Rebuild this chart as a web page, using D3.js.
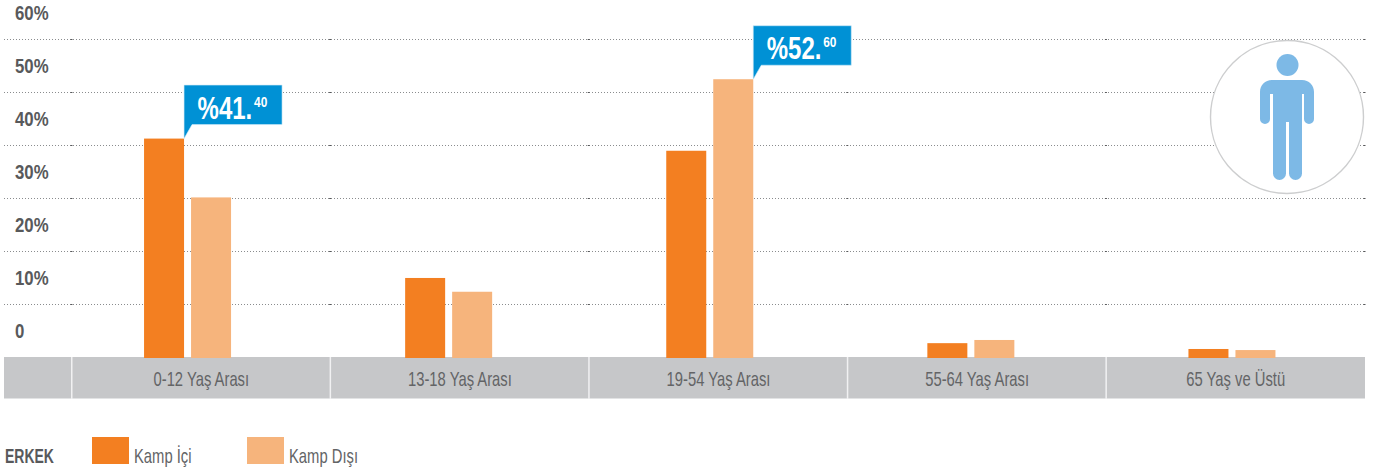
<!DOCTYPE html>
<html><head><meta charset="utf-8">
<script src="https://cdn.jsdelivr.net/npm/d3@7/dist/d3.min.js"></script>
<style>
html,body{margin:0;padding:0;background:#fff}
svg{display:block}
text{font-family:"Liberation Sans",sans-serif}
</style></head><body>
<svg id="c" width="1386" height="475"></svg>
<script>
const categories = ["0-12 Yaş Arası","13-18 Yaş Arası","19-54 Yaş Arası","55-64 Yaş Arası","65 Yaş ve Üstü"];
const seriesNames = ["Kamp İçi","Kamp Dışı"];
const kampIci = [41.4,15.1,39.1,2.8,1.7];
const kampDisi = [30.3,12.5,52.6,3.4,1.5];
const yTicks = [0,10,20,30,40,50,60];
const callouts = [
  {series:0,category:0,main:"%41.",sup:"40"},
  {series:1,category:2,main:"%52.",sup:"60"}
];
const colors = ["#f37f21","#f6b47c"];
const textColor = "#58595b";

const svg = d3.select("#c");
const y = d3.scaleLinear().domain([0,60]).range([358,40]);
const x0 = d3.scaleBand().domain(categories).range([57,1362.5]);
const x1 = d3.scaleBand().domain(seriesNames).range([0,87]).paddingInner(7/47);
const xLabel = d3.scaleBand().domain(categories).range([72,1365]);
const barX = (c,s) => x0(c)+(x0.bandwidth()-87)/2+x1(s);

// condensed text: the reference face is a narrow DIN, so squeeze horizontally
function label(parent,x,yy,str,size,sx,opts={}){
  return parent.append("text")
    .attr("transform",`translate(${x},${yy}) scale(${sx},1)`)
    .attr("font-size",size)
    .attr("font-weight",opts.weight||400)
    .attr("text-anchor",opts.anchor||"start")
    .attr("fill",opts.fill||textColor)
    .text(str);
}

// gridlines
const grid = svg.append("g");
grid.selectAll("line").data(yTicks.filter(d=>d>0)).join("line")
  .attr("x1",4).attr("x2",1365)
  .attr("y1",d=>Math.round(y(d))-0.5).attr("y2",d=>Math.round(y(d))-0.5)
  .attr("stroke","#8a8c8e").attr("stroke-width",1).attr("stroke-dasharray","1 2");
const bounds = categories.map(c=>xLabel(c)).concat([1365]);
yTicks.filter(d=>d>0).forEach(t=>{
  grid.selectAll(null).data(bounds).join("rect")
    .attr("x",d=>d-1.5).attr("y",Math.round(y(t))-1).attr("width",2).attr("height",1).attr("fill","#58595b");
});

// y tick labels through the axis
const yAxis = d3.axisRight(y).tickValues(yTicks).tickSize(0).tickPadding(0)
  .tickFormat(d=>d===0?"0":d+"%");
const ya = svg.append("g").attr("transform","translate(15,-27)").call(yAxis);
ya.select(".domain").remove();
ya.selectAll("text").attr("font-family",'"Liberation Sans"').attr("font-size",20).attr("font-weight",700)
  .attr("fill",textColor).attr("transform","scale(0.84,1)");

// category strip
svg.append("rect").attr("x",4).attr("y",357).attr("width",1361).attr("height",41).attr("fill","#c6c7c9");
svg.append("rect").attr("x",4).attr("y",398).attr("width",1361).attr("height",1).attr("fill","#e2e3e4");
svg.selectAll(".sep").data(categories.map(c=>xLabel(c))).join("rect").attr("class","sep")
  .attr("x",d=>d-1).attr("y",357).attr("width",1.5).attr("height",42).attr("fill","#f1f1f2");
categories.forEach(c=>label(svg,xLabel(c)+xLabel.bandwidth()/2,386,c,20,0.74,{anchor:"middle",fill:"#636466"}));

// bars
[kampIci,kampDisi].forEach((vals,s)=>{
  svg.append("g").selectAll("rect").data(vals).join("rect")
    .attr("x",(d,i)=>barX(categories[i],seriesNames[s]))
    .attr("width",x1.bandwidth())
    .attr("y",d=>y(d)).attr("height",d=>y(0)-y(d)).attr("fill",colors[s]);
});

// callouts
callouts.forEach(k=>{
  const vals = k.series===0?kampIci:kampDisi;
  const c = categories[k.category];
  const bx = barX(c,seriesNames[k.series])+x1.bandwidth();
  const by = y(vals[k.category]);
  const g = svg.append("g").attr("transform",`translate(${bx},${by})`);
  g.append("path").attr("d","M0,0V-53.5H98V-14H8Z").attr("fill","#0091d5").attr("stroke","#cfe9f6").attr("stroke-width",0.6);
  label(g,13.5,-20,k.main,32,0.75,{weight:700,fill:"#fff"});
  label(g,70,-32,k.sup,14,0.85,{weight:700,fill:"#fff"});
});

// icon
const icon = svg.append("g");
icon.append("circle").attr("cx",1287).attr("cy",117).attr("r",76.5).attr("fill","#fff").attr("stroke","#cdcecf").attr("stroke-width",1.4);
icon.append("circle").attr("cx",1287.5).attr("cy",65).attr("r",11).attr("fill","#7db9e6");
icon.append("path").attr("fill","#7db9e6").attr("d",
 "M1272,80H1302C1309,80 1314,85 1314,92V119A5,5 0 0 1 1304,119V94H1302V173.5A6.5,6.5 0 0 1 1289,173.5V122H1286V173.5A6.5,6.5 0 0 1 1273,173.5V94H1270V119A5,5 0 0 1 1260,119V92C1260,85 1265,80 1272,80Z");

// legend
label(svg,5,463,"ERKEK",20,0.7,{weight:700});
const legendX = [92,247];
seriesNames.forEach((n,i)=>{
  svg.append("rect").attr("x",legendX[i]).attr("y",437).attr("width",37).attr("height",27).attr("fill",colors[i]);
  label(svg,legendX[i]+42,463,n,20,0.74,{fill:"#636466"});
});
</script>
</body></html>
